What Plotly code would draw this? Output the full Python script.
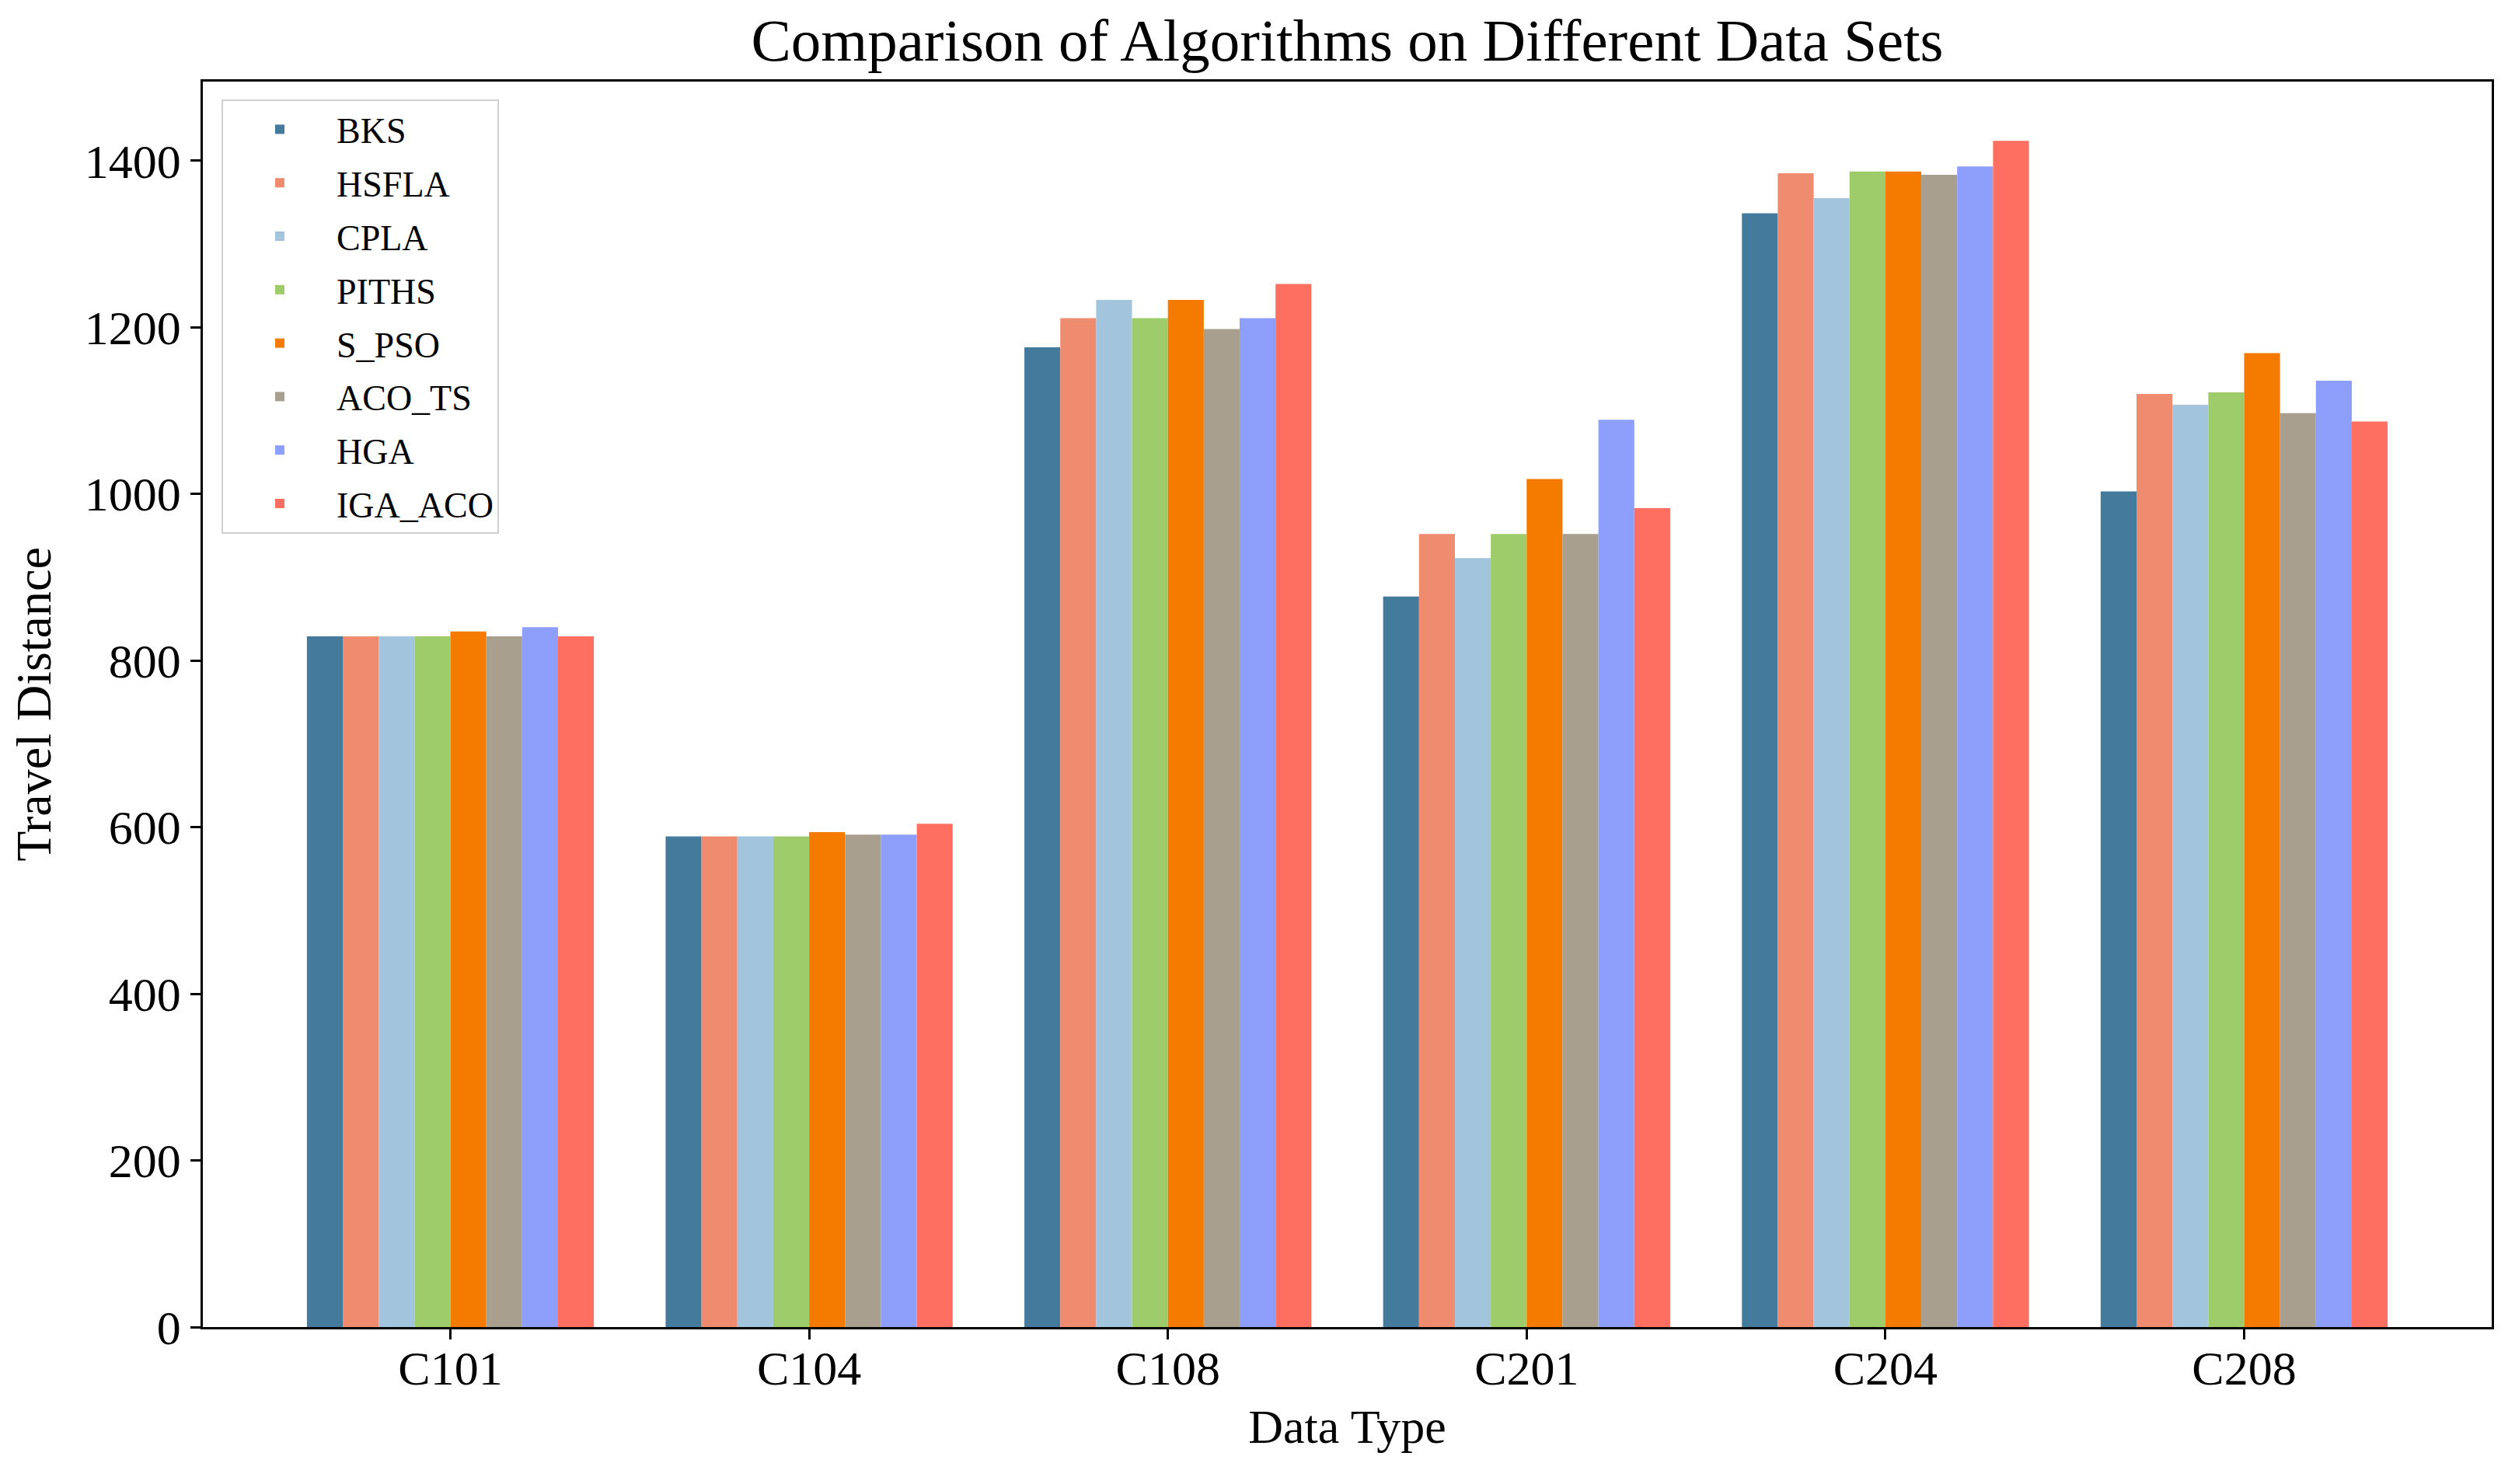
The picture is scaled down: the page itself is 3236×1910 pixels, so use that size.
import plotly.graph_objects as go

categories = ["C101", "C104", "C108", "C201", "C204", "C208"]
algorithms = ["BKS", "HSFLA", "CPLA", "PITHS", "S_PSO", "ACO_TS", "HGA", "IGA_ACO"]

bks = [829, 589, 1176, 877, 1337, 1003]
hsfla = [829, 589, 1211, 952, 1385, 1120]
cpla = [829, 589, 1233, 923, 1355, 1107]
piths = [829, 589, 1211, 952, 1387, 1122]
s_pso = [835, 594, 1233, 1018, 1387, 1169]
aco_ts = [829, 591, 1198, 952, 1383, 1097]
hga = [840, 591, 1211, 1089, 1393, 1136]
iga_aco = [829, 604, 1252, 983, 1424, 1087]

series = [bks, hsfla, cpla, piths, s_pso, aco_ts, hga, iga_aco]
colors = ["#447A9C", "#EF8B6F", "#A2C4DC", "#9FCC6B", "#F47B00", "#A99F8F", "#8D9EFB", "#FE6F61"]

FONT = "Liberation Serif, Times New Roman, serif"

fig = go.Figure()
for name, vals, col in zip(algorithms, series, colors):
    fig.add_trace(go.Bar(
        x=categories, y=vals, name=name,
        marker=dict(color=col, line=dict(width=0)),
        legendgroup=name,
    ))

W, H = 3236, 1910
# page body has an 8px default margin; compensate so the plot area lands where the reference has it
OFF = 8
PL, PT, PR, PB = 261, 105, 3206, 1708   # plot-area edges in the photographed window
L, R, T, B = PL - OFF, W + OFF - PR, PT - OFF, H + OFF - PB

fig.update_layout(
    width=W, height=H,
    margin=dict(l=L, r=R, t=T, b=B, pad=0),
    paper_bgcolor="white", plot_bgcolor="white",
    barmode="group", bargap=0.2, bargroupgap=0,
    font=dict(family=FONT, color="black", size=62),
    title=dict(
        text="Comparison of Algorithms on Different Data Sets",
        font=dict(family=FONT, size=77, color="black"),
        x=((PL + PR) / 2 - OFF) / W, xanchor="center",
        y=1 - (51 - OFF) / H, yanchor="middle", yref="container",
    ),
    legend=dict(
        x=(285 - PL) / (PR - PL), y=(PB - 128) / (PB - PT),
        xanchor="left", yanchor="top",
        bgcolor="rgba(255,255,255,0.8)",
        bordercolor="#d0d0d0", borderwidth=2,
        font=dict(family=FONT, size=46, color="black"),
        tracegroupgap=6,
        itemwidth=136,
    ),
    showlegend=True,
)

fig.update_xaxes(
    type="category",
    range=[-0.69, 5.69],
    showline=True, linecolor="black", linewidth=2.5, mirror=True,
    ticks="outside", ticklen=13, tickwidth=2.5, tickcolor="black",
    tickfont=dict(family=FONT, size=62, color="black"),
    ticklabelstandoff=-16,
    showgrid=False, zeroline=False,
    title=dict(text="Data Type", font=dict(family=FONT, size=62, color="black"), standoff=20),
)
fig.update_yaxes(
    range=[0, 1495],
    tickmode="array", tickvals=[0, 200, 400, 600, 800, 1000, 1200, 1400],
    showline=True, linecolor="black", linewidth=2.5, mirror=True,
    ticks="outside", ticklen=13, tickwidth=2.5, tickcolor="black",
    tickfont=dict(family=FONT, size=62, color="black"),
    showgrid=False, zeroline=False,
    title=dict(text="Travel Distance", font=dict(family=FONT, size=64, color="black"), standoff=24),
)

fig.write_html("out.html")
